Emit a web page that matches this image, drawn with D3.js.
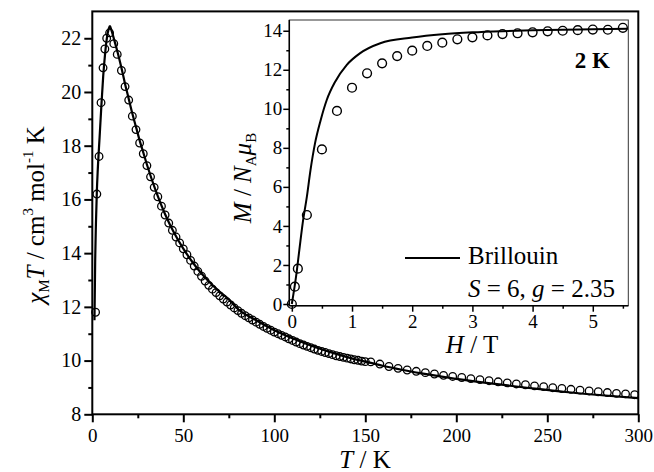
<!DOCTYPE html>
<html>
<head>
<meta charset="utf-8">
<script src="https://d3js.org/d3.v7.min.js"></script>
<style>
  body { margin: 0; background: #fff; }
  svg { display: block; }
  svg text { font-family: 'Liberation Serif', 'Times New Roman', Times, 'DejaVu Serif', serif; }
</style>
</head>
<body>
<script>

// chi_M T vs T (open circles)
var tempK = [1.8, 2.5, 3.7, 4.8, 5.9, 6.9, 7.9, 9.5, 11.8, 13.7, 16, 18, 20, 22, 24, 26, 28, 30, 32, 34, 36, 38, 40, 42, 44,
  46, 48, 50, 52, 54, 56, 58, 60, 62, 64, 66, 68, 70, 72, 74, 76, 78, 80, 82, 84, 86, 88, 90, 92, 94, 96, 98, 100,
  102, 104, 106, 108, 110, 112, 114, 116, 118, 120, 122, 124, 126, 128, 130, 132, 134, 136, 138, 140, 142, 144, 146, 148, 150,
  153, 158, 163, 168, 173, 178, 183, 188, 193, 198, 203, 208, 213, 218, 223, 228, 233, 238, 243, 248, 253, 258, 263, 268,
  273, 278, 283, 288, 293, 298];
var chiT = [11.8, 16.2, 17.6, 19.6, 20.9, 21.6, 22.0, 22.2, 21.8, 21.4, 20.8, 20.2, 19.7, 19.1, 18.6, 18.1, 17.7, 17.26, 16.84, 16.45, 16.1, 15.75, 15.42, 15.12, 14.85,
  14.6, 14.38, 14.16, 13.94, 13.73, 13.52, 13.32, 13.14, 12.96, 12.8, 12.66, 12.53, 12.41, 12.29, 12.18, 12.07, 11.96, 11.86, 11.76, 11.67, 11.59, 11.51, 11.43, 11.35, 11.27, 11.2, 11.13, 11.06,
  11.0, 10.94, 10.88, 10.81, 10.75, 10.69, 10.63, 10.58, 10.53, 10.48, 10.43, 10.38, 10.34, 10.3, 10.26, 10.22, 10.18, 10.15, 10.12, 10.09, 10.06, 10.03, 10.01, 9.98, 9.96,
  9.95, 9.87, 9.78, 9.71, 9.65, 9.6, 9.55, 9.5, 9.45, 9.41, 9.37, 9.33, 9.29, 9.25, 9.21, 9.17, 9.13, 9.1, 9.06, 9.03, 8.99, 8.96, 8.93, 8.9,
  8.87, 8.84, 8.81, 8.78, 8.76, 8.73];

// fit curve
var fitT = [1.2, 1.6, 2, 2.5, 3, 4, 5, 6, 7, 8, 9, 9.7, 10.5, 12, 14, 16, 18, 20, 22, 24, 26, 28, 30, 35, 40, 45, 50, 55, 60, 65, 70, 75, 80, 90, 100, 110, 120, 130, 140, 150, 160, 170, 180, 200, 220, 240, 260, 280, 300];
var fitChiT = [11.5, 13.8, 15.1, 16.3, 17.1, 18.3, 19.5, 20.6, 21.4, 22.0, 22.35, 22.45, 22.3, 21.95, 21.45, 20.9, 20.3, 19.75, 19.2, 18.7, 18.2, 17.75, 17.3, 16.3, 15.45, 14.75, 14.17, 13.67, 13.24, 12.88, 12.56, 12.28, 11.92, 11.5, 11.13, 10.83, 10.56, 10.33, 10.13, 9.96, 9.8, 9.66, 9.53, 9.32, 9.14, 8.98, 8.83, 8.71, 8.6];

// inset: M vs H at 2 K
var fieldH = [0, 0.05, 0.1, 0.25, 0.5, 0.75, 1, 1.25, 1.5, 1.75, 2, 2.25, 2.5, 2.75, 3, 3.25, 3.5, 3.75, 4, 4.25, 4.5, 4.75, 5, 5.25, 5.5];
var magM = [0, 0.89, 1.81, 4.56, 7.92, 9.89, 11.08, 11.82, 12.33, 12.7, 12.98, 13.22, 13.39, 13.56, 13.66, 13.76, 13.83, 13.87, 13.92, 13.97, 14.0, 14.03, 14.06, 14.05, 14.15];

// Brillouin curve S = 6, g = 2.35
var brilH = [0, 0.07, 0.125, 0.18, 0.25, 0.31, 0.385, 0.48, 0.58, 0.72, 0.91, 1.13, 1.47, 2, 2.5, 3, 3.5, 4, 4.5, 5, 5.58];
var brilM = [0, 1.4, 2.77, 4.13, 5.5, 6.86, 8.23, 9.43, 10.45, 11.39, 12.24, 12.84, 13.36, 13.65, 13.82, 13.92, 13.98, 14.02, 14.05, 14.07, 14.1];

var mainXTicks = [0, 50, 100, 150, 200, 250, 300];
var mainXMinor = [25, 75, 125, 175, 225, 275];
var mainYTicks = [8, 10, 12, 14, 16, 18, 20, 22];
var mainYMinor = [9, 11, 13, 15, 17, 19, 21];
var insetXTicks = [0, 1, 2, 3, 4, 5];
var insetXMinor = [0.5, 1.5, 2.5, 3.5, 4.5, 5.5];
var insetYTicks = [0, 2, 4, 6, 8, 10, 12, 14];
var insetYMinor = [1, 3, 5, 7, 9, 11, 13];

var svgWidth = 654;
var svgHeight = 472;

var svg = d3.select('body').append('svg').attr('width', svgWidth).attr('height', svgHeight);

var x = d3.scaleLinear().domain([0, 300]).range([92.3, 638.3]);
var y = d3.scaleLinear().domain([8, 23]).range([414.3, 11.4]);

var hx = d3.scaleLinear().domain([-0.042, 5.59]).range([289.3, 628.3]);
var my = d3.scaleLinear().domain([-0.087, 14.55]).range([305.7, 20]);

function styleAxis(g, size, width) {
  g.attr('font-family', null);
  g.select('.domain').remove();
  g.selectAll('line').attr('stroke', '#000').attr('stroke-width', width);
  g.selectAll('text').attr('font-size', size).attr('fill', '#000');
}

// main axes
svg.append('g').attr('transform', 'translate(0,' + y.range()[0] + ')')
  .call(d3.axisBottom(x).tickValues(mainXTicks).tickSize(8).tickPadding(6).tickFormat(d3.format('d')))
  .call(styleAxis, 19, 2);
svg.append('g').attr('transform', 'translate(0,' + y.range()[0] + ')')
  .call(d3.axisBottom(x).tickValues(mainXMinor).tickSize(4).tickFormat(''))
  .call(styleAxis, 19, 2);
svg.append('g').attr('transform', 'translate(' + x.range()[0] + ',0)')
  .call(d3.axisLeft(y).tickValues(mainYTicks).tickSize(8).tickPadding(3).tickFormat(d3.format('d')))
  .call(styleAxis, 20, 2);
svg.append('g').attr('transform', 'translate(' + x.range()[0] + ',0)')
  .call(d3.axisLeft(y).tickValues(mainYMinor).tickSize(4).tickFormat(''))
  .call(styleAxis, 19, 2);

svg.append('rect')
  .attr('x', x.range()[0]).attr('y', y.range()[1])
  .attr('width', x.range()[1] - x.range()[0]).attr('height', y.range()[0] - y.range()[1])
  .attr('fill', 'none').attr('stroke', '#000').attr('stroke-width', 2);

var fitLine = d3.line()
  .x(function (d, i) { return x(fitT[i]); })
  .y(function (d) { return y(d); })
  .curve(d3.curveMonotoneX);

svg.append('path').datum(fitChiT)
  .attr('d', fitLine)
  .attr('fill', 'none').attr('stroke', '#000').attr('stroke-width', 2.2);

svg.selectAll('circle.main')
  .data(chiT)
  .enter()
  .append('circle')
  .attr('class', 'main')
  .attr('cx', function (d, i) { return x(tempK[i]); })
  .attr('cy', function (d) { return y(d); })
  .attr('r', 3.8)
  .attr('fill', 'none').attr('stroke', '#000').attr('stroke-width', 1.3);

// main axis titles
var xTitle = svg.append('text').attr('x', 365).attr('y', 468)
  .attr('text-anchor', 'middle').attr('font-size', 25);
xTitle.append('tspan').attr('font-style', 'italic').text('T');
xTitle.append('tspan').text(' / K');

var yTitle = svg.append('text').attr('transform', 'translate(44,215) rotate(-90)')
  .attr('text-anchor', 'middle').attr('font-size', 25);
yTitle.append('tspan').attr('font-style', 'italic').text('\u03C7');
yTitle.append('tspan').attr('font-size', 15).attr('dy', 5).text('M');
yTitle.append('tspan').attr('font-style', 'italic').attr('dy', -5).text('T');
yTitle.append('tspan').text(' / cm');
yTitle.append('tspan').attr('font-size', 15).attr('dy', -11).text('3');
yTitle.append('tspan').attr('dy', 11).text(' mol');
yTitle.append('tspan').attr('font-size', 15).attr('dy', -11).text('-1');
yTitle.append('tspan').attr('dy', 11).text(' K');

// inset
svg.append('rect')
  .attr('x', hx.range()[0]).attr('y', my.range()[1])
  .attr('width', hx.range()[1] - hx.range()[0]).attr('height', my.range()[0] - my.range()[1])
  .attr('fill', '#fff').attr('stroke', '#333').attr('stroke-width', 1);

svg.append('g').attr('transform', 'translate(0,' + my.range()[0] + ')')
  .call(d3.axisBottom(hx).tickValues(insetXTicks).tickSize(6).tickPadding(3).tickFormat(d3.format('d')))
  .call(styleAxis, 19, 1.5);
svg.append('g').attr('transform', 'translate(0,' + my.range()[0] + ')')
  .call(d3.axisBottom(hx).tickValues(insetXMinor).tickSize(3).tickFormat(''))
  .call(styleAxis, 19, 1.5);
svg.append('g').attr('transform', 'translate(' + hx.range()[0] + ',0)')
  .call(d3.axisLeft(my).tickValues(insetYTicks).tickSize(6).tickPadding(1).tickFormat(d3.format('d')))
  .call(styleAxis, 19, 1.5);
svg.append('g').attr('transform', 'translate(' + hx.range()[0] + ',0)')
  .call(d3.axisLeft(my).tickValues(insetYMinor).tickSize(3).tickFormat(''))
  .call(styleAxis, 19, 1.5);

svg.append('line')
  .attr('x1', hx.range()[0]).attr('x2', hx.range()[1])
  .attr('y1', my.range()[0]).attr('y2', my.range()[0])
  .attr('stroke', '#000').attr('stroke-width', 1.5);
svg.append('line')
  .attr('x1', hx.range()[0]).attr('x2', hx.range()[0])
  .attr('y1', my.range()[0]).attr('y2', my.range()[1])
  .attr('stroke', '#000').attr('stroke-width', 1.5);

var brilLine = d3.line()
  .x(function (d, i) { return hx(brilH[i]); })
  .y(function (d) { return my(d); })
  .curve(d3.curveMonotoneX);

svg.append('path').datum(brilM)
  .attr('d', brilLine)
  .attr('fill', 'none').attr('stroke', '#000').attr('stroke-width', 2);

svg.selectAll('circle.inset')
  .data(magM)
  .enter()
  .append('circle')
  .attr('class', 'inset')
  .attr('cx', function (d, i) { return hx(fieldH[i]); })
  .attr('cy', function (d) { return my(d); })
  .attr('r', 4.4)
  .attr('fill', 'none').attr('stroke', '#000').attr('stroke-width', 1.4);

var hTitle = svg.append('text').attr('x', 472).attr('y', 353)
  .attr('text-anchor', 'middle').attr('font-size', 25);
hTitle.append('tspan').attr('font-style', 'italic').text('H');
hTitle.append('tspan').text(' / T');

var mTitle = svg.append('text').attr('transform', 'translate(251,178) rotate(-90)')
  .attr('text-anchor', 'middle').attr('font-size', 25);
mTitle.append('tspan').attr('font-style', 'italic').text('M');
mTitle.append('tspan').text(' / ');
mTitle.append('tspan').attr('font-style', 'italic').text('N');
mTitle.append('tspan').attr('font-size', 15).attr('dy', 5).text('A');
mTitle.append('tspan').attr('font-style', 'italic').attr('dy', -5).text('\u03BC');
mTitle.append('tspan').attr('font-size', 15).attr('dy', 5).text('B');

svg.append('text').attr('x', 610).attr('y', 68)
  .attr('text-anchor', 'end').attr('font-size', 23).attr('font-weight', 'bold')
  .text('2 K');

// legend
svg.append('line')
  .attr('x1', 405).attr('x2', 460).attr('y1', 258).attr('y2', 258)
  .attr('stroke', '#000').attr('stroke-width', 2);
svg.append('text').attr('x', 468).attr('y', 264).attr('font-size', 25).text('Brillouin');

var sLabel = svg.append('text').attr('x', 468).attr('y', 297).attr('font-size', 25);
sLabel.append('tspan').attr('font-style', 'italic').text('S');
sLabel.append('tspan').text(' = 6, ');
sLabel.append('tspan').attr('font-style', 'italic').text('g');
sLabel.append('tspan').text(' = 2.35');

</script>
</body>
</html>
